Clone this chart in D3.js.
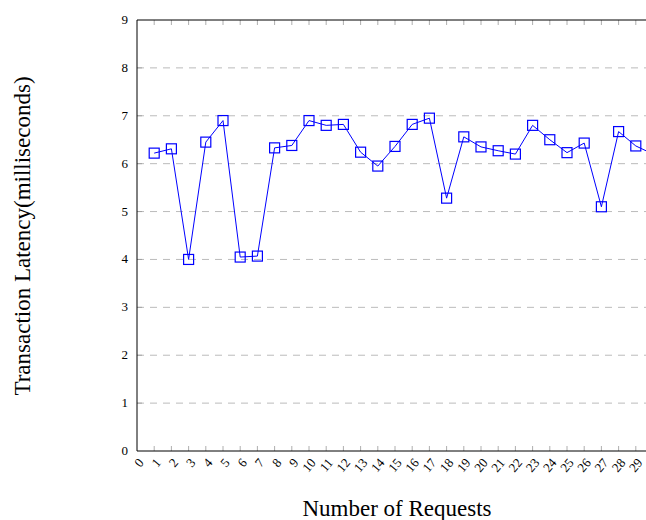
<!DOCTYPE html>
<html>
<head>
<meta charset="utf-8">
<script src="https://cdn.jsdelivr.net/npm/d3@7"></script>
<style>
  body { margin: 0; background: #fff; }
  text { font-family: "Liberation Serif", "DejaVu Serif", serif; }
</style>
</head>
<body>
<svg id="chart"></svg>
<script>
// request number vs latency in ms
const requests = d3.range(0, 31)
const latency = [null, 6.22, 6.31, 4.0, 6.45, 6.9, 4.05, 4.07, 6.33, 6.38, 6.9,
  6.8, 6.82, 6.24, 5.95, 6.36, 6.82, 6.95, 5.28, 6.56, 6.35,
  6.27, 6.2, 6.8, 6.5, 6.23, 6.43, 5.1, 6.67, 6.37, 6.2]
const yTicks = d3.range(0, 10)

const svg = d3.select('#chart')
  .attr('width', 646)
  .attr('height', 520)

const plotLeft = 137, plotTop = 20, plotBottom = 451
const x = d3.scaleLinear().domain([0, 30]).range([plotLeft, plotLeft + 30 * 17.2])
const y = d3.scaleLinear().domain([0, 9]).range([plotBottom, plotTop])

// dashed grid
svg.append('g')
  .selectAll('line')
  .data(yTicks.slice(1, 9))
  .join('line')
  .attr('x1', plotLeft).attr('x2', 660)
  .attr('y1', d => y(d)).attr('y2', d => y(d))
  .attr('stroke', '#bbb')
  .attr('stroke-width', 1)
  .attr('stroke-dasharray', '7,6')

// tick marks: bottom, top, left
const tickG = svg.append('g').attr('stroke', '#999').attr('stroke-width', 0.8)
requests.slice(1).forEach(d => {
  tickG.append('line').attr('x1', x(d)).attr('x2', x(d)).attr('y1', plotBottom).attr('y2', plotBottom - 5)
  tickG.append('line').attr('x1', x(d)).attr('x2', x(d)).attr('y1', plotTop).attr('y2', plotTop + 5)
})
yTicks.slice(1, 9).forEach(d => {
  tickG.append('line').attr('x1', plotLeft).attr('x2', plotLeft + 5).attr('y1', y(d)).attr('y2', y(d))
})

// frame
svg.append('line').attr('x1', plotLeft).attr('x2', 660).attr('y1', plotTop).attr('y2', plotTop).attr('stroke', '#000')
svg.append('line').attr('x1', plotLeft).attr('x2', 660).attr('y1', plotBottom).attr('y2', plotBottom).attr('stroke', '#000')
svg.append('line').attr('x1', plotLeft).attr('x2', plotLeft).attr('y1', plotTop).attr('y2', plotBottom).attr('stroke', '#000')

// y labels
svg.append('g')
  .selectAll('text')
  .data(yTicks)
  .join('text')
  .attr('x', plotLeft - 9)
  .attr('y', d => y(d) + 4)
  .attr('text-anchor', 'end')
  .style('font-size', '13px')
  .text(d => d)

// x labels rotated
svg.append('g')
  .selectAll('text')
  .data(requests)
  .join('text')
  .attr('transform', d => `translate(${x(d) + 4},${plotBottom + 9}) rotate(-50)`)
  .attr('text-anchor', 'end')
  .attr('dy', '0.35em')
  .style('font-size', '13px')
  .text(d => d)

// series
const pts = requests.map((d, i) => ({ r: d, v: latency[i] })).filter(d => d.v !== null)

svg.append('path')
  .datum(pts)
  .attr('fill', 'none')
  .attr('stroke', '#0000ff')
  .attr('stroke-width', 1)
  .attr('d', d3.line().x(d => x(d.r)).y(d => y(d.v)))

svg.append('g')
  .selectAll('rect')
  .data(pts)
  .join('rect')
  .attr('x', d => x(d.r) - 5)
  .attr('y', d => y(d.v) - 5)
  .attr('width', 10).attr('height', 10)
  .attr('fill', 'none')
  .attr('stroke', '#0000ff')
  .attr('stroke-width', 1.2)

// axis titles
svg.append('text')
  .attr('x', 397).attr('y', 516)
  .attr('text-anchor', 'middle')
  .style('font-size', '23px')
  .text('Number of Requests')

svg.append('text')
  .attr('transform', 'translate(30,236) rotate(-90)')
  .attr('text-anchor', 'middle')
  .style('font-size', '23px')
  .text('Transaction Latency(milliseconds)')
</script>
</body>
</html>
